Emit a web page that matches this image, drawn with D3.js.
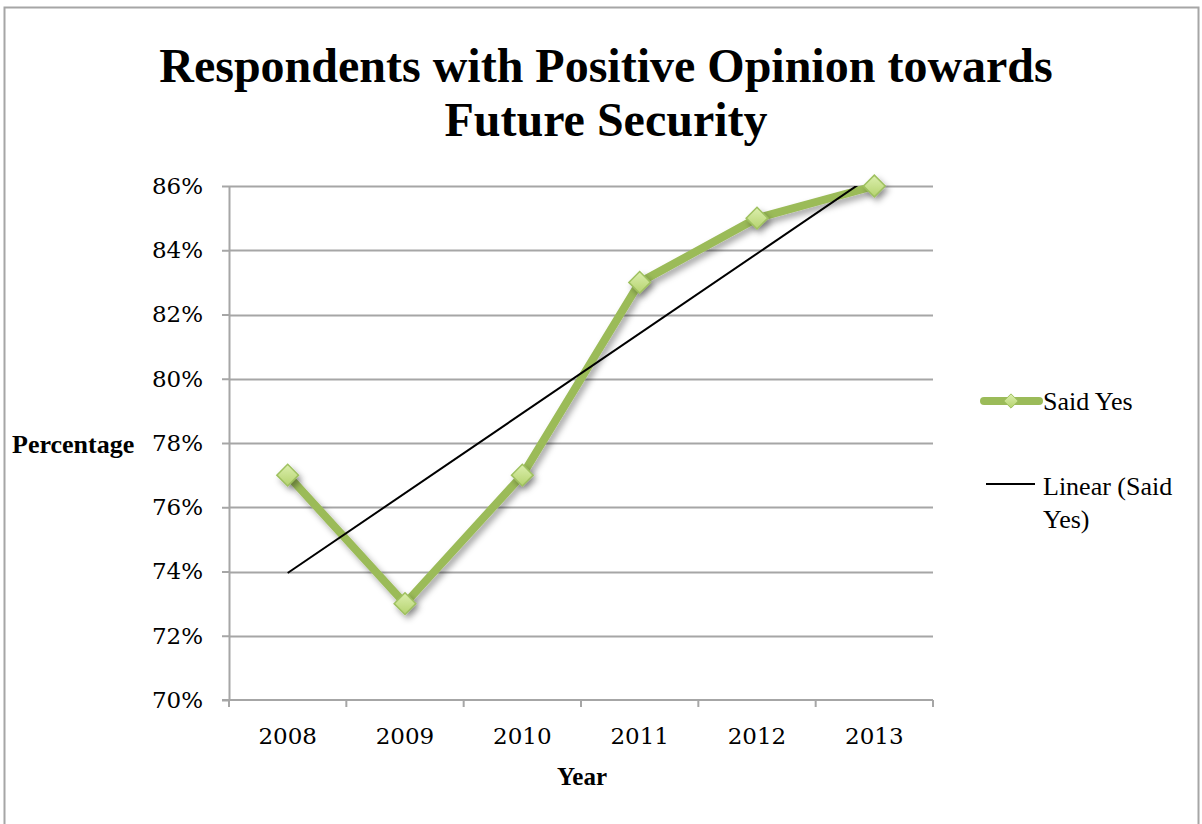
<!DOCTYPE html>
<html>
<head>
<meta charset="utf-8">
<script src="https://cdn.jsdelivr.net/npm/d3@7"></script>
<style>
  body { margin: 0; background: #fff; }
  svg { display: block; }
</style>
</head>
<body>
<div class="chart"></div>
<script>
// data
let years = ['2008', '2009', '2010', '2011', '2012', '2013'];
let saidYes = [77, 73, 77, 83, 85, 86];
let yTicks = [70, 72, 74, 76, 78, 80, 82, 84, 86];

let fullWidth = 1202;
let fullHeight = 824;
let margin = {top: 186, right: 269, bottom: 124, left: 229};
let width = fullWidth - margin.left - margin.right;
let height = fullHeight - margin.top - margin.bottom;

let green = '#9bbb59';
let gridColor = '#a6a6a6';

let root = d3.select('.chart')
  .append('svg')
    .attr('width', fullWidth)
    .attr('height', fullHeight);

// drop shadow for the series
let defs = root.append('defs');
let shadow = defs.append('filter')
  .attr('id', 'shadow')
  .attr('x', '-50%').attr('y', '-50%')
  .attr('width', '200%').attr('height', '200%');
shadow.append('feDropShadow')
  .attr('dx', 3).attr('dy', 4)
  .attr('stdDeviation', 3)
  .attr('flood-color', '#000')
  .attr('flood-opacity', 0.35);

let grad = defs.append('linearGradient')
  .attr('id', 'markerFill')
  .attr('x1', 0).attr('y1', 0).attr('x2', 0).attr('y2', 1);
grad.append('stop').attr('offset', '0%').attr('stop-color', '#dcefae');
grad.append('stop').attr('offset', '100%').attr('stop-color', '#b5d36f');

// trendline gets clipped at the plot area like Excel does
defs.append('clipPath')
  .attr('id', 'plotClip')
  .append('rect')
    .attr('x', 0).attr('y', 0)
    .attr('width', width).attr('height', height);

// outer border
root.append('rect')
  .attr('x', 4.5).attr('y', 7.5)
  .attr('width', 1194).attr('height', 830)
  .style('fill', 'none')
  .style('stroke', '#a6a6a6')
  .style('stroke-width', 2);

// title
let title = root.append('text')
  .attr('text-anchor', 'middle')
  .style('font-family', '"Liberation Serif", "Times New Roman", serif')
  .style('font-weight', 'bold')
  .style('font-size', '48px');
title.append('tspan').attr('x', 606).attr('y', 82).text('Respondents with Positive Opinion towards');
title.append('tspan').attr('x', 606).attr('y', 136).text('Future Security');

let svg = root.append('g')
  .attr('transform', `translate(${margin.left}, ${margin.top})`);

let yScale = d3.scaleLinear()
  .domain([70, 86])
  .range([height, 0]);

let xScale = d3.scaleBand()
  .domain(years)
  .range([0, width]);

// gridlines
svg.append('g')
  .selectAll('line')
  .data(yTicks.filter(d => d > 70))
  .enter()
  .append('line')
    .attr('x1', 0)
    .attr('x2', width)
    .attr('y1', d => Math.round(yScale(d)) + 0.5)
    .attr('y2', d => Math.round(yScale(d)) + 0.5)
    .style('stroke', gridColor)
    .style('stroke-width', 2);

let yAxis = d3.axisLeft(yScale)
  .tickValues(yTicks)
  .tickFormat(d => d + '%')
  .tickSizeInner(7)
  .tickSizeOuter(0)
  .tickPadding(19);

let yG = svg.append('g').call(yAxis);
yG.select('.domain').style('stroke', gridColor).style('stroke-width', 2);
yG.selectAll('.tick line').style('stroke', gridColor).style('stroke-width', 2);
yG.selectAll('.tick text')
  .style('font-family', '"DejaVu Serif", serif')
  .style('font-size', '23px')
  .style('fill', '#000');

// x axis: ticks on category boundaries
let xG = svg.append('g')
  .attr('transform', `translate(0, ${height})`);
xG.append('line')
  .attr('x1', -7).attr('x2', width)
  .attr('y1', 0).attr('y2', 0)
  .style('stroke', gridColor)
  .style('stroke-width', 2);
let bounds = years.map(d => xScale(d)).concat([width]);
xG.selectAll('line.tk')
  .data(bounds)
  .enter()
  .append('line')
    .attr('class', 'tk')
    .attr('x1', d => d).attr('x2', d => d)
    .attr('y1', 0).attr('y2', 7)
    .style('stroke', gridColor)
    .style('stroke-width', 2);
xG.selectAll('text')
  .data(years)
  .enter()
  .append('text')
    .attr('x', d => xScale(d) + xScale.bandwidth() / 2)
    .attr('y', 44)
    .attr('text-anchor', 'middle')
    .style('font-family', '"DejaVu Serif", serif')
    .style('font-size', '23px')
    .text(d => d);

// axis titles
root.append('text')
  .attr('x', 12).attr('y', 453)
  .style('font-family', '"Liberation Serif", serif')
  .style('font-weight', 'bold')
  .style('font-size', '26px')
  .text('Percentage');

root.append('text')
  .attr('x', 582).attr('y', 785)
  .attr('text-anchor', 'middle')
  .style('font-family', '"Liberation Serif", serif')
  .style('font-weight', 'bold')
  .style('font-size', '25px')
  .text('Year');

// series line
let cx = d => xScale(d) + xScale.bandwidth() / 2;
let points = years.map((d, i) => [cx(d), yScale(saidYes[i])]);

let line = d3.line();
svg.append('path')
  .attr('d', line(points))
  .style('fill', 'none')
  .style('stroke', green)
  .style('stroke-width', 8)
  .style('stroke-linejoin', 'round')
  .style('stroke-linecap', 'round')
  .attr('filter', 'url(#shadow)');

// linear trend (least squares)
let xs = saidYes.map((d, i) => i + 1);
let mx = d3.mean(xs), my = d3.mean(saidYes);
let slope = d3.sum(xs, (x, i) => (x - mx) * (saidYes[i] - my)) / d3.sum(xs, x => (x - mx) * (x - mx));
let icpt = my - slope * mx;
let trend = [
  [cx(years[0]), yScale(icpt + slope * 1)],
  [cx(years[years.length - 1]), yScale(icpt + slope * years.length)]
];
svg.append('path')
  .attr('d', line(trend))
  .attr('clip-path', 'url(#plotClip)')
  .style('fill', 'none')
  .style('stroke', '#000')
  .style('stroke-width', 2);

// markers
let diamond = d3.symbol().type(d3.symbolDiamond2).size(300);
svg.selectAll('path.marker')
  .data(points)
  .enter()
  .append('path')
    .attr('class', 'marker')
    .attr('d', diamond)
    .attr('transform', d => `translate(${d[0]}, ${d[1]})`)
    .style('fill', 'url(#markerFill)')
    .style('stroke', '#9fc160')
    .style('stroke-width', 1.5)
    .attr('filter', 'url(#shadow)');

// legend
let legend = root.append('g');
legend.append('line')
  .attr('x1', 984).attr('x2', 1039)
  .attr('y1', 401).attr('y2', 401)
  .style('stroke', green)
  .style('stroke-width', 8)
  .style('stroke-linecap', 'round');
legend.append('path')
  .attr('d', d3.symbol().type(d3.symbolDiamond2).size(130))
  .attr('transform', 'translate(1011, 401)')
  .style('fill', 'url(#markerFill)')
  .style('stroke', '#9fc160')
  .style('stroke-width', 1);
legend.append('text')
  .attr('x', 1043).attr('y', 410)
  .style('font-family', '"Liberation Serif", serif')
  .style('font-size', '26px')
  .text('Said Yes');

legend.append('line')
  .attr('x1', 986).attr('x2', 1035)
  .attr('y1', 484).attr('y2', 484)
  .style('stroke', '#000')
  .style('stroke-width', 2);
let lt = legend.append('text')
  .style('font-family', '"Liberation Serif", serif')
  .style('font-size', '26px');
lt.append('tspan').attr('x', 1043).attr('y', 495).text('Linear (Said');
lt.append('tspan').attr('x', 1043).attr('y', 528).text('Yes)');
</script>
</body>
</html>
